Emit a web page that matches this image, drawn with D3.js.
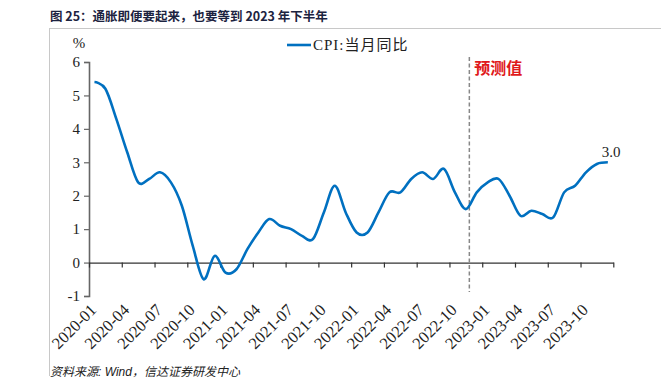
<!DOCTYPE html>
<html>
<head>
<meta charset="utf-8">
<script src="https://cdn.jsdelivr.net/npm/d3@7"></script>
<style>
  body { margin: 0; background: #fff; }
  svg { display: block; }
</style>
</head>
<body>
<svg width="661" height="384"></svg>
<script>
// CPI 当月同比 (%), 2020-01 .. 2023-12 ; 2022-12 起为预测值
var years = ["2020", "2021", "2022", "2023"];
var cpi2020 = [5.4, 5.2, 4.3, 3.3, 2.4, 2.5, 2.7, 2.4, 1.7, 0.5, -0.5, 0.2];
var cpi2021 = [-0.3, -0.2, 0.4, 0.9, 1.3, 1.1, 1.0, 0.8, 0.7, 1.5, 2.3, 1.5];
var cpi2022 = [0.9, 0.9, 1.5, 2.1, 2.1, 2.5, 2.7, 2.5, 2.8, 2.1, 1.6, 2.1];
var cpi2023 = [2.4, 2.5, 2.0, 1.4, 1.55, 1.45, 1.35, 2.1, 2.3, 2.7, 2.95, 3.0];
var tickLabels = ["2020-01", "2020-04", "2020-07", "2020-10", "2021-01", "2021-04", "2021-07", "2021-10",
                  "2022-01", "2022-04", "2022-07", "2022-10", "2023-01", "2023-04", "2023-07", "2023-10"];
var yTicks = [-1, 0, 1, 2, 3, 4, 5, 6];
var forecastFrom = "2022-11"; // dashed line sits just after this month
var lastLabel = "3.0";

var cpi = cpi2020.concat(cpi2021, cpi2022, cpi2023);
var months = [];
years.forEach(function(yr) {
  for (var m = 1; m <= 12; m++) months.push(yr + "-" + (m < 10 ? "0" + m : m));
});

var svg = d3.select("svg");
var blue = "#0070c0";

var x = d3.scaleBand().domain(months).range([89, 613.3]);
var cx = function(m) { return x(m) + x.bandwidth() / 2; };
var xi = d3.scaleLinear().domain([0, months.length]).range([89, 613.3]);
var y = d3.scaleLinear().domain([-1, 6]).range([296, 62]);

// frame lines
svg.append("line").attr("x1", 49).attr("x2", 661).attr("y1", 28.5).attr("y2", 28.5)
  .attr("stroke", "#c8c8c8").attr("stroke-width", 1);
svg.append("line").attr("x1", 49.5).attr("x2", 49.5).attr("y1", 28).attr("y2", 376)
  .attr("stroke", "#c8c8c8").attr("stroke-width", 1);

// title
svg.append("text").attr("x", 50).attr("y", 21)
  .attr("font-family", "'Noto Sans CJK SC', sans-serif").attr("font-weight", "bold")
  .attr("font-size", 12.5).attr("fill", "#1c2340")
  .text("图 25：通胀即便要起来，也要等到 2023 年下半年");

// y axis
var gy = svg.append("g").attr("transform", "translate(89,0)")
  .call(d3.axisLeft(y).tickValues(yTicks).tickSize(5).tickPadding(4)
    .tickFormat(function(d) { return String(d); }));
gy.select(".domain").attr("stroke", "#666").attr("stroke-width", 1.6);
gy.selectAll(".tick line").attr("stroke", "#666").attr("stroke-width", 1.2);
gy.selectAll(".tick text").attr("font-family", "'Liberation Serif', serif").attr("font-size", 15)
  .attr("fill", "#222");

// x axis at zero
var gx = svg.append("g").attr("transform", "translate(0," + y(0) + ")")
  .call(d3.axisBottom(xi).tickValues(d3.range(0, months.length + 1, 3)).tickSize(5)
    .tickSizeOuter(0).tickFormat(""));
gx.select(".domain").attr("stroke", "#333").attr("stroke-width", 1.2);
gx.selectAll(".tick line").attr("stroke", "#333").attr("stroke-width", 1.2);

// x labels, rotated
svg.append("g").selectAll("text").data(tickLabels).enter().append("text")
  .attr("transform", function(d) { return "translate(" + (cx(d) + 3) + ",311) rotate(-45)"; })
  .attr("text-anchor", "end")
  .attr("font-family", "'Liberation Serif', serif").attr("font-size", 16.5).attr("fill", "#222")
  .text(function(d) { return d; });

// % unit
svg.append("text").attr("x", 79).attr("y", 48).attr("text-anchor", "middle")
  .attr("font-family", "'Liberation Serif', serif").attr("font-size", 15).attr("fill", "#222")
  .text("%");

// forecast divider
var xf = cx(forecastFrom) + 3.5;
svg.append("line").attr("x1", xf).attr("x2", xf).attr("y1", 57).attr("y2", 292)
  .attr("stroke", "#888").attr("stroke-width", 1.5).attr("stroke-dasharray", "4,2.5");
svg.append("text").attr("x", xf + 5).attr("y", 74)
  .attr("font-family", "'Noto Sans CJK SC', sans-serif").attr("font-weight", "bold")
  .attr("font-size", 16).attr("fill", "#e0191b")
  .text("预测值");

// CPI line
var line = d3.line()
  .x(function(d, i) { return cx(months[i]); })
  .y(function(d) { return y(d); })
  .curve(d3.curveCardinal.tension(0));
svg.append("path").datum(cpi).attr("d", line)
  .attr("fill", "none").attr("stroke", blue).attr("stroke-width", 2.6);

// end label
svg.append("text").attr("x", cx(months[months.length - 1]) - 6).attr("y", y(cpi[cpi.length - 1]) - 5)
  .attr("font-family", "'Liberation Serif', serif").attr("font-size", 15).attr("fill", "#222")
  .text(lastLabel);

// legend
svg.append("line").attr("x1", 287).attr("x2", 311).attr("y1", 45).attr("y2", 45)
  .attr("stroke", blue).attr("stroke-width", 2.6);
svg.append("text").attr("x", 313).attr("y", 50)
  .attr("font-family", "'Liberation Serif', 'Noto Sans CJK SC', serif").attr("font-size", 15)
  .attr("letter-spacing", 1).attr("fill", "#222")
  .text("CPI:当月同比");

// source
svg.append("text").attr("x", 50).attr("y", 376)
  .attr("font-family", "'Liberation Sans', 'Noto Sans CJK SC', sans-serif").attr("font-style", "italic")
  .attr("font-size", 12).attr("fill", "#222")
  .text("资料来源: Wind，信达证券研发中心");
</script>
</body>
</html>
